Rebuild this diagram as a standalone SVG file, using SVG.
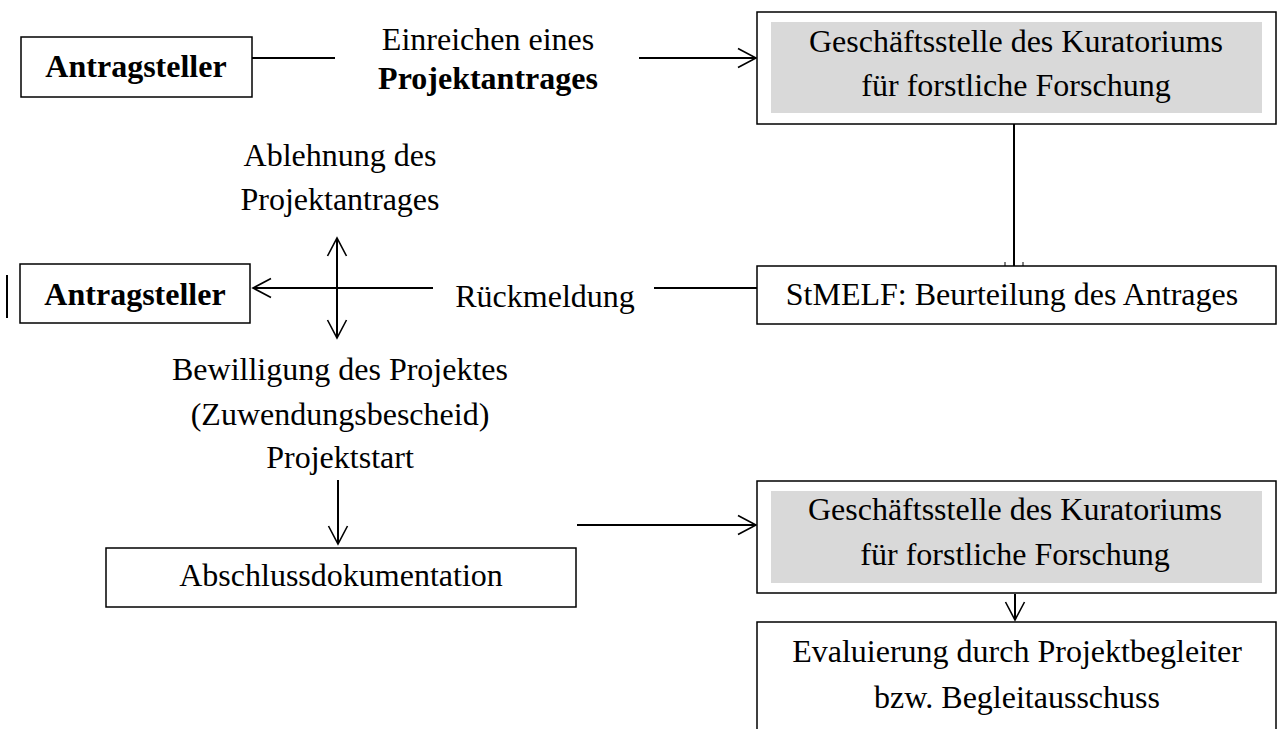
<svg xmlns="http://www.w3.org/2000/svg" width="1278" height="729" viewBox="0 0 1278 729">
<defs>
<style>
.box{fill:#fff;stroke:#000;stroke-width:1.5}
.gray{fill:#d9d9d9;stroke:none}
.t{font-family:"Liberation Serif","Times New Roman",serif;font-size:32px;fill:#000;text-anchor:middle}
.b{font-weight:bold}
.ln{stroke:#000;stroke-width:2;fill:none}
.tick{stroke:#000;stroke-width:1}
</style>
<marker id="ah" viewBox="0 0 22 22" refX="20" refY="11" markerWidth="22" markerHeight="22" markerUnits="userSpaceOnUse" orient="auto-start-reverse">
<path d="M2,1.5 L20,11 L2,20.5" fill="none" stroke="#000" stroke-width="1.6"/>
</marker>
</defs>
<rect width="1278" height="729" fill="#fff"/>
<g id="connectors">
<line class="ln" x1="252" y1="58" x2="335" y2="58"/>
<line class="ln" x1="639" y1="58" x2="756" y2="58" marker-end="url(#ah)"/>
<line class="ln" x1="1014" y1="124" x2="1014" y2="266"/>
<line class="tick" x1="1005" y1="262" x2="1005" y2="266"/>
<line class="tick" x1="1023" y1="262" x2="1023" y2="266"/>
<line class="ln" x1="654" y1="288" x2="757" y2="288"/>
<line class="ln" x1="433" y1="288" x2="253" y2="288" marker-end="url(#ah)"/>
<line class="ln" x1="337" y1="238" x2="337" y2="338" marker-start="url(#ah)" marker-end="url(#ah)"/>
<line class="ln" x1="7" y1="275" x2="7" y2="318"/>
<line class="ln" x1="338" y1="480" x2="338" y2="544" marker-end="url(#ah)"/>
<line class="ln" x1="577" y1="525" x2="756" y2="525" marker-end="url(#ah)"/>
<line class="ln" x1="1015" y1="594" x2="1015" y2="620" marker-end="url(#ah)"/>
</g>
<g id="antragsteller1">
<rect class="box" x="21" y="37" width="231" height="60"/>
<text class="t b" x="136" y="77">Antragsteller</text>
</g>
<g id="label-einreichen">
<text class="t" x="488" y="50">Einreichen eines</text>
<text class="t b" x="488" y="89">Projektantrages</text>
</g>
<g id="geschaeftsstelle1">
<rect class="box" x="757" y="12" width="519" height="112"/>
<rect class="gray" x="771" y="22" width="491" height="91"/>
<text class="t" x="1016" y="52">Geschäftsstelle des Kuratoriums</text>
<text class="t" x="1016" y="96">für forstliche Forschung</text>
</g>
<g id="label-ablehnung">
<text class="t" x="340" y="166">Ablehnung des</text>
<text class="t" x="340" y="210">Projektantrages</text>
</g>
<g id="antragsteller2">
<rect class="box" x="20" y="264" width="230" height="59"/>
<text class="t b" x="135" y="305">Antragsteller</text>
</g>
<g id="label-rueckmeldung">
<text class="t" x="545" y="307">Rückmeldung</text>
</g>
<g id="stmelf">
<rect class="box" x="757" y="266" width="519" height="58"/>
<text class="t" x="1012" y="305">StMELF: Beurteilung des Antrages</text>
</g>
<g id="label-bewilligung">
<text class="t" x="340" y="380">Bewilligung des Projektes</text>
<text class="t" x="340" y="425">(Zuwendungsbescheid)</text>
<text class="t" x="340" y="468">Projektstart</text>
</g>
<g id="abschluss">
<rect class="box" x="106" y="548" width="470" height="59"/>
<text class="t" x="341" y="586">Abschlussdokumentation</text>
</g>
<g id="geschaeftsstelle2">
<rect class="box" x="757" y="481" width="519" height="112"/>
<rect class="gray" x="771" y="491" width="491" height="92"/>
<text class="t" x="1015" y="520">Geschäftsstelle des Kuratoriums</text>
<text class="t" x="1015" y="565">für forstliche Forschung</text>
</g>
<g id="evaluierung">
<rect class="box" x="757" y="622" width="519" height="120"/>
<text class="t" x="1017" y="662">Evaluierung durch Projektbegleiter</text>
<text class="t" x="1017" y="708">bzw. Begleitausschuss</text>
</g>
</svg>
